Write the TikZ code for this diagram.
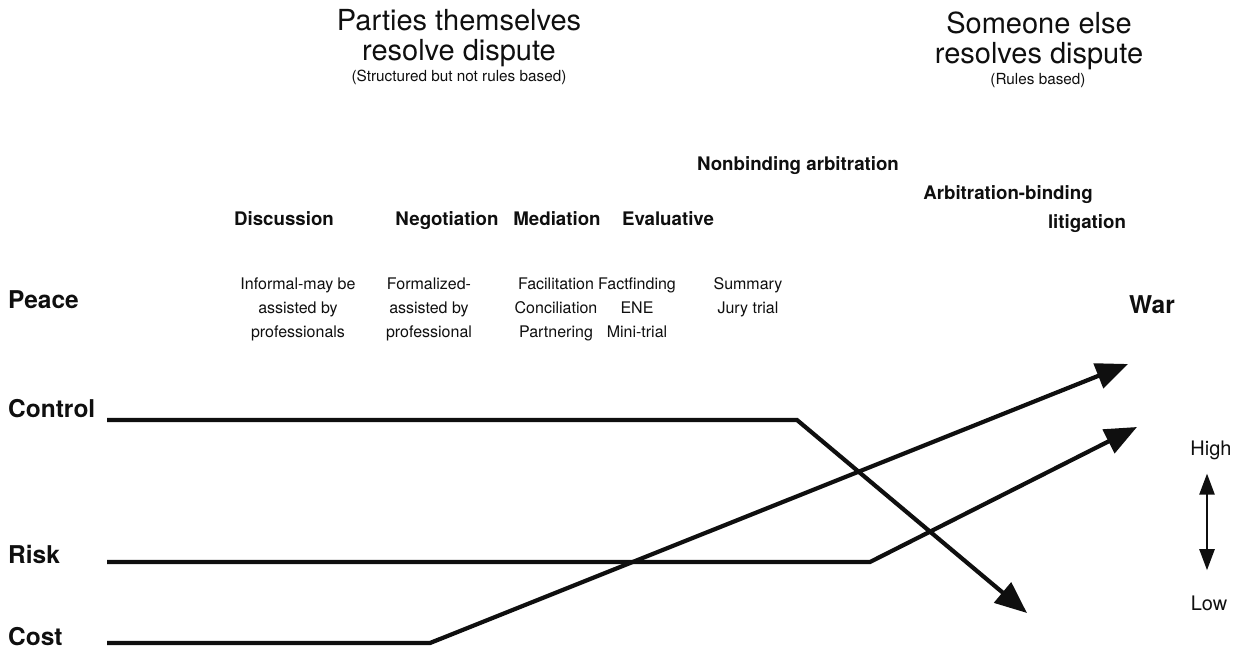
\documentclass[tikz,border=0pt]{standalone}
\usepackage{fontspec}
\setmainfont{TeX Gyre Heros}
\usepackage{xcolor}
\usetikzlibrary{positioning,arrows.meta}
\definecolor{ink}{RGB}{15,15,15}

\begin{document}
\begin{tikzpicture}[x=1pt,y=-1pt,
  titletxt/.style={font=\fontsize{29}{30}\selectfont, align=center, inner sep=0pt, text=ink},
  subtxt/.style={font=\fontsize{15.3}{17}\selectfont, inner sep=0pt, text=ink},
  headtxt/.style={font=\bfseries\fontsize{18.7}{20}\selectfont, inner sep=0pt, text=ink},
  sidetxt/.style={font=\bfseries\fontsize{24.5}{26}\selectfont, inner sep=0pt, text=ink},
  desctxt/.style={font=\fontsize{16}{24}\selectfont, align=center, inner sep=0pt, text=ink},
  leveltxt/.style={font=\fontsize{20}{22}\selectfont, inner sep=0pt, text=ink},
  flatline/.style={draw=ink, line width=4.2pt},
  riseline/.style={flatline, -{Triangle[length=32pt,width=26pt]}},
  updown/.style={draw=ink, line width=2.4pt, {Triangle[length=21pt,width=15pt]}-{Triangle[length=21pt,width=15pt]}}
]
\useasboundingbox (0,0) rectangle (1236,655);

\node[titletxt, anchor=base] (parties) at (459,61) {Parties themselves\\resolve dispute};
\node[subtxt, anchor=base] (partiesnote) at (459,82) {(Structured but not rules based)};
\node[titletxt, anchor=base] (someone) at (1039,64) {Someone else\\resolves dispute};
\node[subtxt, anchor=base] (someonenote) at (1038,85) {(Rules based)};

\node[headtxt, anchor=base] (nonbinding) at (798,171) {Nonbinding arbitration};
\node[headtxt, anchor=base] (binding) at (1008,200) {Arbitration-binding};
\node[headtxt, anchor=base] (litigation) at (1087,228) {litigation};
\node[headtxt, anchor=base] (discussion) at (284,225) {Discussion};
\node[headtxt, anchor=base] (negotiation) at (447,225) {Negotiation};
\node[headtxt, anchor=base] (mediation) at (557,225) {Mediation};
\node[headtxt, anchor=base] (evaluative) at (668,225) {Evaluative};

\node[desctxt, anchor=base] (informal) at (298,337) {Informal-may be\\assisted by\\professionals};
\node[desctxt, anchor=base] (formal) at (429,337) {Formalized-\\assisted by\\professional};
\node[desctxt, anchor=base] (facilitation) at (556,337) {Facilitation\\Conciliation\\Partnering};
\node[desctxt, anchor=base] (factfinding) at (637,337) {Factfinding\\ENE\\Mini-trial};
\node[desctxt, anchor=base] (summary) at (748,313) {Summary\\Jury trial};

\node[sidetxt, anchor=base west] (peace) at (8,308) {Peace};
\node[sidetxt, anchor=base west] (control) at (8,417) {Control};
\node[sidetxt, anchor=base west] (risk) at (8,563) {Risk};
\node[sidetxt, anchor=base west] (cost) at (8,645) {Cost};
\node[sidetxt, anchor=base] (war) at (1152,313) {War};

\node[leveltxt, anchor=base] (high) at (1211,455) {High};
\node[leveltxt, anchor=base] (low) at (1209,610) {Low};

\coordinate (controlstart) at (107,420);
\coordinate (controlbend) at (797,420);
\coordinate (controlend) at (1027,613);
\coordinate (riskstart) at (107,562);
\coordinate (riskbend) at (870,562);
\coordinate (riskend) at (1137,427);
\coordinate (coststart) at (107,643);
\coordinate (costbend) at (430,643);
\coordinate (costend) at (1128,364);

\draw[riseline] (controlstart) -- (controlbend) -- (controlend);
\draw[riseline] (riskstart) -- (riskbend) -- (riskend);
\draw[riseline] (coststart) -- (costbend) -- (costend);
\draw[updown] ([shift={(-4pt,-14pt)}]high.south) -- ([shift={(-2pt,25pt)}]low.north);
\end{tikzpicture}
\end{document}
